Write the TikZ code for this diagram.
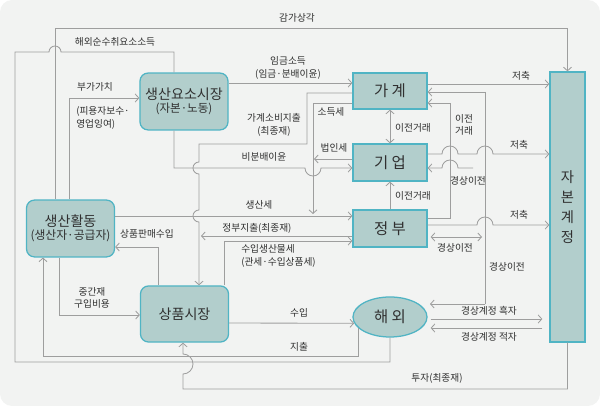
\documentclass[tikz,border=0pt]{standalone}
\usepackage{fontspec}
\setmainfont{Noto Sans CJK KR}
\usepackage{xcolor}
\usepackage{tikz}
\usetikzlibrary{arrows.meta,positioning,shapes.geometric}
\definecolor{bgcol}{RGB}{242,243,242}
\definecolor{boxcol}{RGB}{178,206,204}
\definecolor{edgecol}{RGB}{80,180,196}
\definecolor{linecol}{RGB}{158,158,158}
\definecolor{txtcol}{RGB}{48,48,48}

\begin{document}
\begin{tikzpicture}[
    x=0.025cm, y=-0.025cm,
    >={Straight Barb[length=0.9mm,width=2mm]},
    font=\fontsize{6.9}{8.9}\selectfont,
    text=txtcol,
    market/.style={
        draw=edgecol,
        fill=boxcol,
        line width=0.9pt,
        rounded corners=2mm,
        align=center,
        minimum width=2.2cm,
        minimum height=1.42cm,
        inner sep=1pt
    },
    sector/.style={
        draw=edgecol,
        fill=boxcol,
        line width=0.9pt,
        minimum width=1.85cm,
        minimum height=0.9cm,
        font=\fontsize{11}{12}\selectfont
    },
    flow/.style={->, draw=linecol, line width=0.6pt},
    link/.style={draw=linecol, line width=0.6pt},
    lbl/.style={inner sep=0pt, align=center}
]

% background
\fill[bgcol, rounded corners=0.3cm] (0,0) rectangle (600,406);
\useasboundingbox (0,0) rectangle (600,406);

% markets and production
\node[market] (fm) at (184,101.5)
{{\fontsize{10}{11.5}\selectfont 생산요소시장}\\
{\fontsize{8.2}{10}\selectfont (자본·노동)}};

\node[market] (prod) at (70.5,228.5)
{{\fontsize{10}{11.5}\selectfont 생산활동}\\
{\fontsize{8.4}{10}\selectfont (생산자·공급자)}};

\node[market, minimum height=1.4cm] (goods) at (184.5,314)
{\fontsize{10}{11.5}\selectfont 상품시장};

% sectors
\node[sector] (hh) at (390,91) {가 계};
\node[sector, minimum height=0.925cm] (firm) at (390,162.5) {기 업};
\node[sector, minimum height=0.925cm] (gov) at (390,228.5) {정 부};
\node[sector, ellipse, inner sep=0pt, minimum width=1.85cm, minimum height=1cm] (abroad) at (390,317) {해 외};

\node[sector, minimum width=0.875cm, minimum height=6.75cm, align=center,
      font=\fontsize{10.2}{14.2}\selectfont] (cap) at (567.5,207) {자\\본\\계\\정};

% depreciation and factor income
\draw[flow] (prod.north -| 55,0) -- (55,28) -| (cap.north);
\draw[link] (abroad.south) -- (390,362) -- (15,362) -- (15,52) -- (49,52)
    arc[start angle=180, end angle=0, radius=0.15cm] -- (174,52) -- (fm.north -| 174,0);
\draw[flow] (prod.north -| 69,0) |- (fm.west |- 0,98);
\draw[flow] (fm.east |- 0,83) -- (hh.west |- 0,83);

% household consumption, taxes
\draw[flow] (hh.west |- 0,93) -- (307,93) -- (307,144) -- (199,144) -- (199,162)
    arc[start angle=90, end angle=270, radius=0.15cm] -- (199,210)
    arc[start angle=90, end angle=270, radius=0.15cm] -- (goods.north -| 199,0);
\draw[flow] (fm.south -| 174,0) |- (305,168)
    arc[start angle=180, end angle=360, radius=0.2cm] -- (firm.west |- 0,168);
\draw[flow] (hh.west |- 0,103) -- (313,103) -- (313,214);
\draw[flow] (firm.west |- 0,159) -- (314,159);
\draw[flow] (prod.east |- 0,216) -- (gov.west |- 0,216);
\draw[flow] (gov.west |- 0,236) -- (201,236);
\draw[flow] (goods.north -| 224,0) |- (gov.west |- 0,241);

% goods market
\draw[flow] (goods.north -| 158,0) |- (prod.east |- 0,247);
\draw[flow] (prod.south -| 59,0) |- (goods.west |- 0,315);
\draw[flow] (goods.east |- 0,323) -- (abroad.190);
\draw[flow] (abroad.200) |- (43,356) -- (prod.south -| 43,0);
\draw[flow] (cap.south) |- (183,389) -- (183,374)
    arc[start angle=-90, end angle=90, radius=0.25cm] -- (goods.south -| 183,0);

% transfers between sectors
\draw[flow, <->] (hh.south) -- (firm.north);
\draw[flow] (gov.north) -- (firm.south);
\draw[flow] (gov.east |- 0,218) -- (450,218) -- (450,103) -- (hh.east |- 0,103);

% savings
\draw[flow] (hh.east |- 0,84) -- (cap.west |- 0,84);
\draw[flow] (firm.east |- 0,154) -- (442,154)
    arc[start angle=180, end angle=0, radius=0.2cm] -- (477,154)
    arc[start angle=180, end angle=0, radius=0.2cm] -- (cap.west |- 0,154);
\draw[flow] (gov.east |- 0,225) -- (477,225)
    arc[start angle=180, end angle=0, radius=0.2cm] -- (cap.west |- 0,225);

% current transfers
\coordinate (bus-top) at (485,92);
\coordinate (bus-bot) at (485,304);
\coordinate (ab-in) at (430,304);
\coordinate (firm-tr) at (473,168);
\draw[link] (bus-top) -- (bus-bot);
\draw[flow] (bus-top) -- (hh.east |- bus-top);
\draw[flow] (bus-bot) -- (ab-in);
\draw[flow] (firm-tr) -- (458,168)
    arc[start angle=0, end angle=180, radius=0.2cm] -- (firm.east |- 0,168);
\draw[flow, <->, shorten <=0.075cm] (gov.east |- 0,237) -- (482,237);

% current account
\draw[flow, shorten <=0.075cm, shorten >=0.175cm] (abroad.east |- 0,319) -- (cap.west |- 0,319);
\draw[flow, shorten <=0.175cm, shorten >=0.075cm] (cap.west |- 0,328) -- (abroad.east |- 0,328);

% labels
\node[lbl] (l-dep) at (297,18) {감가상각};
\node[lbl] (l-nfi) at (115,42) {해외순수취요소소득};
\node[lbl] (l-va) at (95,87) {부가가치};
\node[lbl, anchor=west, align=left] (l-va2) at (76,118) {(피용자보수·\\영업잉여)};
\node[lbl] (l-wage) at (288,68) {임금소득\\(임금·분배이윤)};
\node[lbl] (l-cons) at (274,125) {가계소비지출\\(최종재)};
\node[lbl] (l-itax) at (331,112) {소득세};
\node[lbl] (l-ret) at (264,157) {비분배이윤};
\node[lbl] (l-ctax) at (334,148) {법인세};
\node[lbl] (l-ptax) at (259,205) {생산세};
\node[lbl] (l-gexp) at (257,228) {정부지출(최종재)};
\node[lbl, anchor=west, align=left] (l-mtax) at (241,256) {수입생산물세\\(관세·수입상품세)};
\node[lbl] (l-sale) at (147,234) {상품판매수입};
\node[lbl] (l-mid) at (92,298) {중간재\\구입비용};
\node[lbl] (l-imp) at (299,313) {수입};
\node[lbl] (l-exp) at (299,347) {지출};
\node[lbl] (l-inv) at (437,378) {투자(최종재)};
\node[lbl] (l-sav1) at (521,76) {저축};
\node[lbl] (l-sav2) at (519,145) {저축};
\node[lbl] (l-sav3) at (519,215) {저축};
\node[lbl] (l-tr1) at (413,128) {이전거래};
\node[lbl] (l-tr2) at (413,196) {이전거래};
\node[lbl] (l-tr3) at (464,125) {이전\\거래};
\node[lbl] (l-ct1) at (468,181) {경상이전};
\node[lbl] (l-ct2) at (455,248) {경상이전};
\node[lbl] (l-ct3) at (507,267) {경상이전};
\node[lbl] (l-sur) at (489,311) {경상계정 흑자};
\node[lbl] (l-def) at (489,337) {경상계정 적자};

\end{tikzpicture}
\end{document}
